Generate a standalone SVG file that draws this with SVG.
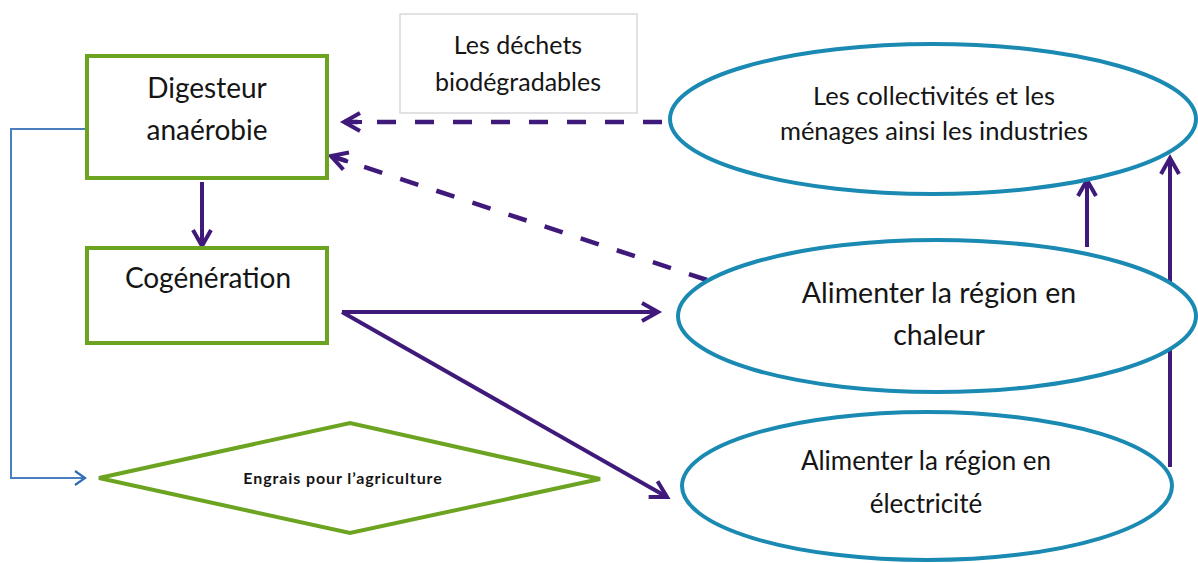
<svg xmlns="http://www.w3.org/2000/svg" width="1198" height="563" viewBox="0 0 1198 563">
  <style>
    .box { fill: #ffffff; stroke: #6ca421; stroke-width: 4; }
    .oval { fill: #ffffff; stroke: #1a8ab3; stroke-width: 4; }
    .note { fill: #ffffff; stroke: #d9d9d9; stroke-width: 1.5; }
    .flow { fill: none; stroke: #3f1a7a; stroke-width: 4; }
    .dash { fill: none; stroke: #3f1a7a; stroke-width: 4.5; stroke-dasharray: 19 19; }
    .side { fill: none; stroke: #4a7fbd; stroke-width: 2; }
    text { font-family: Lato, "Open Sans", "Liberation Sans", sans-serif; fill: #151515; text-anchor: middle; }
  </style>
  <defs>
    <marker id="head" markerUnits="userSpaceOnUse" markerWidth="26" markerHeight="26" refX="20" refY="13" orient="auto">
      <path d="M4,4 L20,13 L4,22" fill="none" stroke="#3f1a7a" stroke-width="4" stroke-linejoin="miter"/>
    </marker>
    <marker id="headBlue" markerUnits="userSpaceOnUse" markerWidth="18" markerHeight="18" refX="13" refY="9" orient="auto">
      <path d="M3,2 L13,9 L3,16" fill="none" stroke="#2f6db5" stroke-width="2.2"/>
    </marker>
  </defs>

  <!-- connectors -->
  <g id="connectors">
    <path class="side" d="M87,129 H11 V478 H85" marker-end="url(#headBlue)"/>
    <path class="flow" d="M202,182 V246" marker-end="url(#head)"/>
    <path class="flow" d="M342,312 H658" marker-end="url(#head)"/>
    <path class="flow" d="M342,312 L667,497" marker-end="url(#head)"/>
    <path class="flow" d="M1087,247 V180" marker-end="url(#head)"/>
    <path class="flow" d="M1170,467 V158" marker-end="url(#head)"/>
    <path class="dash" d="M662,122 H344"/>
    <path class="flow" d="M362,122 H344" marker-end="url(#head)"/>
    <path class="dash" d="M707,280 L331,156"/>
    <path class="flow" d="M348,161.6 L331,156" marker-end="url(#head)"/>
  </g>

  <!-- label box -->
  <g id="label-dechets">
    <rect class="note" x="400" y="14" width="237" height="99"/>
    <text x="518" y="54" font-size="25">Les déchets</text>
    <text x="518" y="91" font-size="25">biodégradables</text>
  </g>

  <g id="digesteur">
    <rect class="box" x="87" y="56" width="240" height="122"/>
    <text x="207" y="98" font-size="28">Digesteur</text>
    <text x="207" y="140" font-size="28">anaérobie</text>
  </g>

  <g id="cogeneration">
    <rect class="box" x="87" y="248" width="240" height="95"/>
    <text x="208" y="288" font-size="28">Cogénération</text>
  </g>

  <g id="engrais">
    <polygon class="box" points="99,478 350,423 600,479 350,533"/>
    <text x="343" y="484" font-size="16" font-weight="bold" letter-spacing="0.9">Engrais pour l’agriculture</text>
  </g>

  <g id="collectivites">
    <ellipse class="oval" cx="933" cy="119" rx="263" ry="75"/>
    <text x="934" y="105" font-size="25.5">Les collectivités et les</text>
    <text x="934" y="140" font-size="25.5">ménages ainsi les industries</text>
  </g>

  <g id="chaleur">
    <ellipse class="oval" cx="937" cy="316" rx="259" ry="76"/>
    <text x="939" y="303" font-size="28.5">Alimenter la région en</text>
    <text x="939" y="345" font-size="28.5">chaleur</text>
  </g>

  <g id="electricite">
    <ellipse class="oval" cx="927" cy="486" rx="245" ry="74"/>
    <text x="926" y="470" font-size="26">Alimenter la région en</text>
    <text x="926" y="513" font-size="26">électricité</text>
  </g>
</svg>
